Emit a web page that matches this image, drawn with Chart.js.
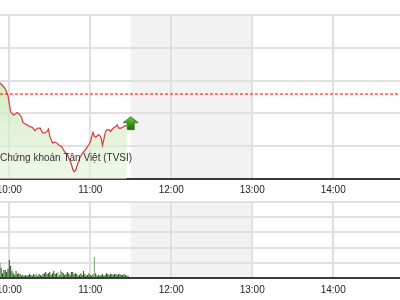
<!DOCTYPE html>
<html>
<head>
<meta charset="utf-8">
<script src="https://cdn.jsdelivr.net/npm/chart.js@4"></script>
<style>
  body { margin: 0; background: #fff; }
  .wrap { position: absolute; left: 0; width: 400px; }
  #priceBox { top: 0; height: 200px; }
  #volBox { top: 190px; height: 110px; }
</style>
</head>
<body>
<div class="wrap" id="priceBox"><canvas id="priceChart"></canvas></div>
<div class="wrap" id="volBox"><canvas id="volChart"></canvas></div>
<script>
// Intraday index
const priceTimes = ["09:53","09:55","09:57","09:59","10:00","10:01","10:03","10:05","10:06","10:08",
  "10:09","10:10","10:12","10:13","10:15","10:17","10:18","10:19","10:21","10:23",
  "10:24","10:25","10:27","10:28","10:29","10:30","10:31","10:32","10:34","10:35",
  "10:37","10:39","10:40","10:41","10:43","10:44","10:46","10:47","10:48","10:49",
  "10:50","10:51","10:52","10:54","10:56","10:57","10:59","11:00","11:01","11:02",
  "11:03","11:04","11:06","11:07","11:08","11:09","11:10","11:11","11:12","11:14",
  "11:15","11:17","11:19","11:20","11:21","11:23","11:24","11:26","11:27"];
const priceValues = [485.85,485.70,485.50,485.10,484.60,484.10,483.90,484.00,484.05,483.90,
  483.80,483.45,483.35,483.30,483.20,483.15,483.05,482.95,483.10,483.10,
  482.90,482.80,482.85,482.90,483.05,482.60,482.40,482.20,482.25,482.20,
  482.05,481.95,481.80,481.65,481.50,481.30,480.90,480.60,480.45,480.50,
  480.75,481.00,481.25,481.55,481.75,481.85,482.10,482.25,482.55,482.85,
  482.60,482.55,482.70,482.65,482.50,482.05,482.40,482.80,483.00,483.00,
  482.90,483.10,483.20,483.30,483.10,483.10,483.15,483.25,483.25];
const refPrice = 485.18;

// Volume, one bar per minute starting at volStart
const volStart = "09:53";
const volValues = [49,33,16,26,26,20,30,59,40,23, 16,10,23,13,16,13,7,10,7,10,
  7,10,13,10,7,13,10,16,7,13, 10,7,13,16,20,13,16,20,10,16,
  23,13,16,20,10,26,20,16,10,13, 20,16,10,20,20,13,16,13,7,10,
  16,10,23,13,7,10,16,10,7,13, 69,16,7,10,7,10,13,7,10,16,
  13,10,13,13,10,13,13,10,13,13, 10,10,13,10,7,7];
const volLightTimes = ["10:20","10:36","10:38","11:03"];

const xTicks = ["10:00","11:00","12:00","13:00","14:00"];
const lunchBreak = ["11:30","13:00"];
const xRange = ["09:53","14:50"];
const watermark = "Chứng khoán Tân Việt (TVSI)";

function toMin(t) {
  const [h, m] = t.split(":").map(Number);
  return h * 60 + m;
}
function fmtMin(v) {
  const h = Math.floor(v / 60), m = v % 60;
  return h + ":" + String(m).padStart(2, "0");
}

const FONT = '"Liberation Sans", Arial, sans-serif';
const TICK_FONT = '"Liberation Sans Narrow", "Liberation Sans", Arial, sans-serif';
const xMin = toMin(xRange[0]) + 0.1;
const xMax = toMin(xRange[1]) - 0.5;

// shade the lunch break behind the grid
const breakShade = {
  id: "breakShade",
  beforeDraw(chart) {
    const { ctx, chartArea: a, scales } = chart;
    const x0 = scales.x.getPixelForValue(toMin(lunchBreak[0]));
    const x1 = scales.x.getPixelForValue(toMin(lunchBreak[1]));
    ctx.save();
    ctx.fillStyle = "#f2f2f2";
    ctx.fillRect(x0, a.top, x1 - x0, a.bottom - a.top);
    ctx.restore();
  },
};

// green up arrow at the last price + watermark text
const priceExtras = {
  id: "priceExtras",
  afterDatasetsDraw(chart) {
    const { ctx, chartArea: a } = chart;
    ctx.save();
    ctx.font = "10px " + FONT;
    ctx.fillStyle = "#333";
    ctx.textAlign = "left";
    ctx.textBaseline = "middle";
    ctx.fillText(watermark, a.left, 158);

    const pts = chart.getDatasetMeta(0).data;
    const p = pts[pts.length - 1];
    const cx = p.x + 4;
    const g = ctx.createLinearGradient(0, p.y - 9, 0, p.y + 4);
    g.addColorStop(0, "#66cc30");
    g.addColorStop(1, "#1a6a06");
    ctx.fillStyle = g;
    ctx.strokeStyle = "#2a7a12";
    ctx.lineWidth = 0.8;
    ctx.beginPath();
    ctx.moveTo(cx, p.y - 9);
    ctx.lineTo(cx + 7.5, p.y - 3);
    ctx.lineTo(cx + 3.5, p.y - 3);
    ctx.lineTo(cx + 3.5, p.y + 4);
    ctx.lineTo(cx - 3.5, p.y + 4);
    ctx.lineTo(cx - 3.5, p.y - 3);
    ctx.lineTo(cx - 7.5, p.y - 3);
    ctx.closePath();
    ctx.fill();
    ctx.stroke();
    ctx.restore();
  },
};

function xScale(height, pad) {
  return {
    type: "linear",
    min: xMin,
    max: xMax,
    offset: false,
    afterBuildTicks(scale) {
      scale.ticks = xTicks.map((t) => ({ value: toMin(t) }));
    },
    afterFit(scale) {
      scale.height = height;
      scale.paddingLeft = 0;
      scale.paddingRight = 0;
    },
    grid: { color: "#e0e0e0", lineWidth: 2, drawTicks: false, offset: false },
    border: { display: true, color: "#3a3a3a", width: 2 },
    ticks: {
      padding: pad,
      color: "#222",
      font: { family: TICK_FONT, size: 10 },
      callback: (v) => fmtMin(v),
    },
  };
}
function yScale(min, max, step) {
  return {
    min: min,
    max: max,
    afterFit(scale) { scale.width = 0; },
    grid: { color: "#e0e0e0", lineWidth: 2, drawTicks: false },
    border: { display: false },
    ticks: { display: false, stepSize: step },
  };
}

new Chart(document.getElementById("priceChart"), {
  type: "line",
  data: {
    datasets: [
      {
        data: priceTimes.map((t, i) => ({ x: toMin(t), y: priceValues[i] })),
        borderColor: "#d4393f",
        borderWidth: 1.2,
        pointRadius: 0,
        tension: 0,
        fill: "start",
        order: 1,
        backgroundColor: (context) => {
          const { chart } = context;
          if (!chart.chartArea) return;
          const a = chart.chartArea;
          const g = chart.ctx.createLinearGradient(0, a.top, 0, a.bottom);
          g.addColorStop(0, "rgba(180,222,150,0.9)");
          g.addColorStop(1, "rgba(228,243,218,0.6)");
          return g;
        },
      },
      {
        data: [{ x: xMin, y: refPrice }, { x: xMax, y: refPrice }],
        borderColor: "#ff0000",
        borderWidth: 1,
        borderDash: [3, 2],
        pointRadius: 0,
        fill: false,
        order: 0,
      },
    ],
  },
  options: {
    responsive: true,
    maintainAspectRatio: false,
    animation: false,
    events: [],
    layout: { padding: { top: 15, left: 0, right: 0, bottom: 0 } },
    plugins: { legend: { display: false }, tooltip: { enabled: false } },
    scales: { x: xScale(21, 5), y: yScale(480, 490, 2) },
  },
  plugins: [breakShade, priceExtras],
});

const v0 = toMin(volStart);
const lightSet = volLightTimes.map(toMin);
new Chart(document.getElementById("volChart"), {
  type: "bar",
  data: {
    datasets: [
      {
        data: volValues.map((v, i) => ({ x: v0 + i, y: v })),
        backgroundColor: volValues.map((v, i) =>
          lightSet.includes(v0 + i) ? "#86a87a" : "#25601a"
        ),
        barPercentage: 0.8,
        categoryPercentage: 1,
      },
    ],
  },
  options: {
    responsive: true,
    maintainAspectRatio: false,
    animation: false,
    events: [],
    layout: { padding: { top: 12, left: 0, right: 0, bottom: 0 } },
    plugins: { legend: { display: false }, tooltip: { enabled: false } },
    scales: { x: xScale(22, 6), y: yScale(0, 250, 50) },
  },
  plugins: [breakShade],
});
</script>
</body>
</html>
